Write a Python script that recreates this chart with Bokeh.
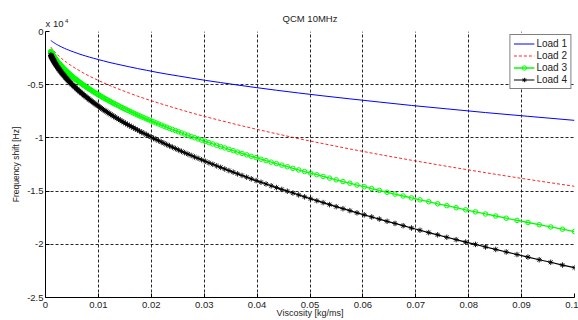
from bokeh.plotting import figure
from bokeh.models import (Range1d, FixedTicker, CustomJSTickFormatter, Legend,
                          LegendItem, Label)
from bokeh.embed import file_html
from bokeh.resources import INLINE

FONT = "Liberation Sans"

# ---------------- data ----------------
# viscosity [kg/ms], log-spaced sampling
viscosity = [
    0.001000, 0.001023, 0.001047, 0.001072, 0.001096, 0.001122, 0.001148, 0.001175, 0.001202, 0.001230,
    0.001259, 0.001288, 0.001318, 0.001349, 0.001380, 0.001413, 0.001445, 0.001479, 0.001514, 0.001549,
    0.001585, 0.001622, 0.001660, 0.001698, 0.001738, 0.001778, 0.001820, 0.001862, 0.001905, 0.001950,
    0.001995, 0.002042, 0.002089, 0.002138, 0.002188, 0.002239, 0.002291, 0.002344, 0.002399, 0.002455,
    0.002512, 0.002570, 0.002630, 0.002692, 0.002754, 0.002818, 0.002884, 0.002951, 0.003020, 0.003090,
    0.003162, 0.003236, 0.003311, 0.003388, 0.003467, 0.003548, 0.003631, 0.003715, 0.003802, 0.003890,
    0.003981, 0.004074, 0.004169, 0.004266, 0.004365, 0.004467, 0.004571, 0.004677, 0.004786, 0.004898,
    0.005012, 0.005129, 0.005248, 0.005370, 0.005495, 0.005623, 0.005754, 0.005888, 0.006026, 0.006166,
    0.006310, 0.006457, 0.006607, 0.006761, 0.006918, 0.007079, 0.007244, 0.007413, 0.007586, 0.007762,
    0.007943, 0.008128, 0.008318, 0.008511, 0.008710, 0.008913, 0.009120, 0.009333, 0.009550, 0.009772,
    0.01000, 0.01023, 0.01047, 0.01072, 0.01096, 0.01122, 0.01148, 0.01175, 0.01202, 0.01230,
    0.01259, 0.01288, 0.01318, 0.01349, 0.01380, 0.01413, 0.01445, 0.01479, 0.01514, 0.01549,
    0.01585, 0.01622, 0.01660, 0.01698, 0.01738, 0.01778, 0.01820, 0.01862, 0.01905, 0.01950,
    0.01995, 0.02042, 0.02089, 0.02138, 0.02188, 0.02239, 0.02291, 0.02344, 0.02399, 0.02455,
    0.02512, 0.02570, 0.02630, 0.02692, 0.02754, 0.02818, 0.02884, 0.02951, 0.03020, 0.03090,
    0.03162, 0.03236, 0.03311, 0.03388, 0.03467, 0.03548, 0.03631, 0.03715, 0.03802, 0.03890,
    0.03981, 0.04074, 0.04169, 0.04266, 0.04365, 0.04467, 0.04571, 0.04677, 0.04786, 0.04898,
    0.05012, 0.05129, 0.05248, 0.05370, 0.05495, 0.05623, 0.05754, 0.05888, 0.06026, 0.06166,
    0.06310, 0.06457, 0.06607, 0.06761, 0.06918, 0.07079, 0.07244, 0.07413, 0.07586, 0.07762,
    0.07943, 0.08128, 0.08318, 0.08511, 0.08710, 0.08913, 0.09120, 0.09333, 0.09550, 0.09772,
    0.1,
]

# frequency shift, in units of 1e4 Hz
load1 = [  # sampled at viscosity[::4]
    -0.084, -0.087, -0.092, -0.096, -0.100, -0.105, -0.110, -0.115, -0.121, -0.126,
    -0.132, -0.139, -0.145, -0.152, -0.159, -0.167, -0.174, -0.183, -0.191, -0.200,
    -0.210, -0.220, -0.230, -0.241, -0.252, -0.264, -0.276, -0.290, -0.303, -0.317,
    -0.332, -0.348, -0.364, -0.382, -0.400, -0.418, -0.438, -0.459, -0.480, -0.503,
    -0.527, -0.552, -0.578, -0.605, -0.633, -0.663, -0.695, -0.727, -0.762, -0.797,
    -0.835,
]
load2 = [  # sampled at viscosity[::4]
    -0.146, -0.152, -0.160, -0.167, -0.175, -0.183, -0.192, -0.201, -0.210, -0.220,
    -0.231, -0.241, -0.253, -0.265, -0.277, -0.290, -0.304, -0.318, -0.333, -0.349,
    -0.365, -0.383, -0.401, -0.420, -0.439, -0.460, -0.482, -0.505, -0.528, -0.553,
    -0.579, -0.607, -0.635, -0.665, -0.696, -0.729, -0.764, -0.800, -0.837, -0.877,
    -0.918, -0.961, -1.007, -1.054, -1.104, -1.156, -1.210, -1.267, -1.327, -1.390,
    -1.455,
]
load3 = [
    -0.188, -0.190, -0.192, -0.195, -0.197, -0.199, -0.201, -0.204, -0.206, -0.209,
    -0.211, -0.213, -0.216, -0.218, -0.221, -0.223, -0.226, -0.229, -0.231, -0.234,
    -0.237, -0.239, -0.242, -0.245, -0.248, -0.251, -0.254, -0.257, -0.260, -0.263,
    -0.266, -0.269, -0.272, -0.275, -0.278, -0.281, -0.285, -0.288, -0.291, -0.295,
    -0.298, -0.301, -0.305, -0.308, -0.312, -0.316, -0.319, -0.323, -0.327, -0.330,
    -0.334, -0.338, -0.342, -0.346, -0.350, -0.354, -0.358, -0.362, -0.367, -0.371,
    -0.375, -0.379, -0.384, -0.388, -0.393, -0.397, -0.402, -0.407, -0.411, -0.416,
    -0.421, -0.426, -0.431, -0.436, -0.441, -0.446, -0.451, -0.456, -0.461, -0.467,
    -0.472, -0.478, -0.483, -0.489, -0.494, -0.500, -0.506, -0.512, -0.518, -0.524,
    -0.530, -0.536, -0.542, -0.548, -0.555, -0.561, -0.568, -0.574, -0.581, -0.588,
    -0.595, -0.601, -0.608, -0.615, -0.623, -0.630, -0.637, -0.644, -0.652, -0.659,
    -0.667, -0.675, -0.683, -0.690, -0.698, -0.707, -0.715, -0.723, -0.731, -0.740,
    -0.748, -0.757, -0.766, -0.775, -0.784, -0.793, -0.802, -0.811, -0.821, -0.830,
    -0.840, -0.849, -0.859, -0.869, -0.879, -0.890, -0.900, -0.910, -0.921, -0.931,
    -0.942, -0.953, -0.964, -0.975, -0.987, -0.998, -1.010, -1.021, -1.033, -1.045,
    -1.057, -1.069, -1.082, -1.094, -1.107, -1.120, -1.133, -1.146, -1.159, -1.173,
    -1.186, -1.200, -1.214, -1.228, -1.242, -1.256, -1.271, -1.286, -1.301, -1.316,
    -1.331, -1.346, -1.362, -1.378, -1.394, -1.410, -1.426, -1.443, -1.459, -1.476,
    -1.493, -1.511, -1.528, -1.546, -1.564, -1.582, -1.600, -1.619, -1.637, -1.656,
    -1.676, -1.695, -1.715, -1.734, -1.755, -1.775, -1.795, -1.816, -1.837, -1.858,
    -1.880,
]
load4 = [
    -0.222, -0.225, -0.227, -0.230, -0.232, -0.235, -0.238, -0.241, -0.243, -0.246,
    -0.249, -0.252, -0.255, -0.258, -0.261, -0.264, -0.267, -0.270, -0.273, -0.276,
    -0.279, -0.283, -0.286, -0.289, -0.293, -0.296, -0.299, -0.303, -0.306, -0.310,
    -0.314, -0.317, -0.321, -0.325, -0.328, -0.332, -0.336, -0.340, -0.344, -0.348,
    -0.352, -0.356, -0.360, -0.364, -0.368, -0.373, -0.377, -0.381, -0.386, -0.390,
    -0.395, -0.399, -0.404, -0.409, -0.413, -0.418, -0.423, -0.428, -0.433, -0.438,
    -0.443, -0.448, -0.453, -0.459, -0.464, -0.469, -0.475, -0.480, -0.486, -0.491,
    -0.497, -0.503, -0.509, -0.514, -0.520, -0.526, -0.533, -0.539, -0.545, -0.551,
    -0.558, -0.564, -0.571, -0.577, -0.584, -0.591, -0.598, -0.604, -0.611, -0.619,
    -0.626, -0.633, -0.640, -0.648, -0.655, -0.663, -0.670, -0.678, -0.686, -0.694,
    -0.702, -0.710, -0.718, -0.727, -0.735, -0.744, -0.752, -0.761, -0.770, -0.779,
    -0.788, -0.797, -0.806, -0.815, -0.825, -0.834, -0.844, -0.854, -0.864, -0.874,
    -0.884, -0.894, -0.904, -0.915, -0.925, -0.936, -0.947, -0.958, -0.969, -0.980,
    -0.992, -1.003, -1.015, -1.026, -1.038, -1.050, -1.063, -1.075, -1.087, -1.100,
    -1.113, -1.126, -1.139, -1.152, -1.165, -1.179, -1.192, -1.206, -1.220, -1.234,
    -1.248, -1.263, -1.277, -1.292, -1.307, -1.322, -1.338, -1.353, -1.369, -1.385,
    -1.401, -1.417, -1.433, -1.450, -1.467, -1.484, -1.501, -1.518, -1.536, -1.554,
    -1.572, -1.590, -1.608, -1.627, -1.646, -1.665, -1.684, -1.704, -1.723, -1.743,
    -1.763, -1.784, -1.804, -1.825, -1.847, -1.868, -1.890, -1.911, -1.934, -1.956,
    -1.979, -2.001, -2.025, -2.048, -2.072, -2.096, -2.120, -2.145, -2.169, -2.195,
    -2.220,
]
viscosity_coarse = viscosity[::4]

x_ticks = [0, 0.01, 0.02, 0.03, 0.04, 0.05, 0.06, 0.07, 0.08, 0.09, 0.1]
y_ticks = [-2.5, -2, -1.5, -1, -0.5, 0]
series_labels = ["Load 1", "Load 2", "Load 3", "Load 4"]
title_text = "QCM 10MHz"

# ---------------- figure ----------------
p = figure(width=578, height=320, output_backend="svg", toolbar_location=None,
           x_range=Range1d(0, 0.1), y_range=Range1d(-2.5, 0),
           min_border_left=45, min_border_right=4, min_border_top=31,
           min_border_bottom=21, title_location=None,
           background_fill_color="white", border_fill_color="white")
p.outline_line_color = None

# title and exponent marker, placed in the border panels so they are not clipped
p.add_layout(Label(x=0.05, y=0, y_offset=8, text=title_text,
                   text_font=FONT, text_font_size="9.5px", text_color="#222222",
                   text_baseline="bottom", text_align="center"), "above")
p.add_layout(Label(x=0, y=0, x_offset=0, y_offset=3, text="x 10",
                   text_font=FONT, text_font_size="9.5px", text_color="#222222",
                   text_baseline="bottom", text_align="left"), "above")
p.add_layout(Label(x=0, y=0, x_offset=19.5, y_offset=8.5, text="4",
                   text_font=FONT, text_font_size="6px", text_color="#222222",
                   text_baseline="bottom", text_align="left"), "left")

xt = FixedTicker(ticks=x_ticks)
yt = FixedTicker(ticks=y_ticks)
p.xaxis.ticker = xt
p.yaxis.ticker = yt
p.xgrid.ticker = xt
p.ygrid.ticker = yt
p.xaxis.formatter = CustomJSTickFormatter(code="return tick.toString();")
p.yaxis.formatter = CustomJSTickFormatter(code="return tick.toString();")

for ax in (p.xaxis[0], p.yaxis[0]):
    ax.axis_line_color = "black"
    ax.axis_line_width = 1
    ax.major_tick_line_color = "black"
    ax.major_tick_in = 4
    ax.major_tick_out = 0
    ax.minor_tick_line_color = None
    ax.major_label_text_font = FONT
    ax.major_label_text_font_size = "9.5px"
    ax.major_label_text_color = "#222222"
    ax.axis_label_text_font = FONT
    ax.axis_label_text_font_style = "normal"
    ax.axis_label_text_color = "#222222"

p.xaxis.axis_label = "Viscosity [kg/ms]"
p.xaxis.axis_label_text_font_size = "9px"
p.xaxis.major_label_standoff = 4
p.xaxis.axis_label_standoff = -3
p.yaxis.axis_label = "Frequency shift [Hz]"
p.yaxis.axis_label_text_font_size = "8.5px"
p.yaxis.major_label_standoff = 2
p.yaxis.axis_label_standoff = 3

for g in (p.xgrid[0], p.ygrid[0]):
    g.grid_line_color = "black"
    g.grid_line_dash = "3 2"
    g.grid_line_width = 1
    g.grid_line_alpha = 0.85

# ---------------- series ----------------
r1 = p.line(viscosity_coarse, load1, line_color="#0000ff", line_width=1)
r2 = p.line(viscosity_coarse, load2, line_color="#ff0000", line_width=1,
            line_dash="3 2", line_alpha=0.85)
r3l = p.line(viscosity, load3, line_color="#00ff00", line_width=1.3)
r3m = p.scatter(viscosity, load3, marker="circle", size=4.5, line_color="#00ff00",
                fill_color=None, line_width=1)
r4l = p.line(viscosity, load4, line_color="black", line_width=1.2)
r4m = p.scatter(viscosity, load4, marker="asterisk", size=5.5, line_color="black",
                line_width=0.9)

legend = Legend(items=[
    LegendItem(label=series_labels[0], renderers=[r1]),
    LegendItem(label=series_labels[1], renderers=[r2]),
    LegendItem(label=series_labels[2], renderers=[r3l, r3m]),
    LegendItem(label=series_labels[3], renderers=[r4l, r4m]),
], location="top_right")
legend.margin = 3
legend.padding = 3
legend.spacing = 1
legend.glyph_width = 21
legend.glyph_height = 11
legend.label_height = 11
legend.label_standoff = 2
legend.label_text_font = FONT
legend.label_text_font_size = "10px"
legend.label_text_color = "#222222"
legend.border_line_color = "black"
legend.border_line_width = 1
legend.background_fill_color = "white"
legend.background_fill_alpha = 1
p.add_layout(legend)

open("out.html", "w").write(file_html(p, INLINE))
